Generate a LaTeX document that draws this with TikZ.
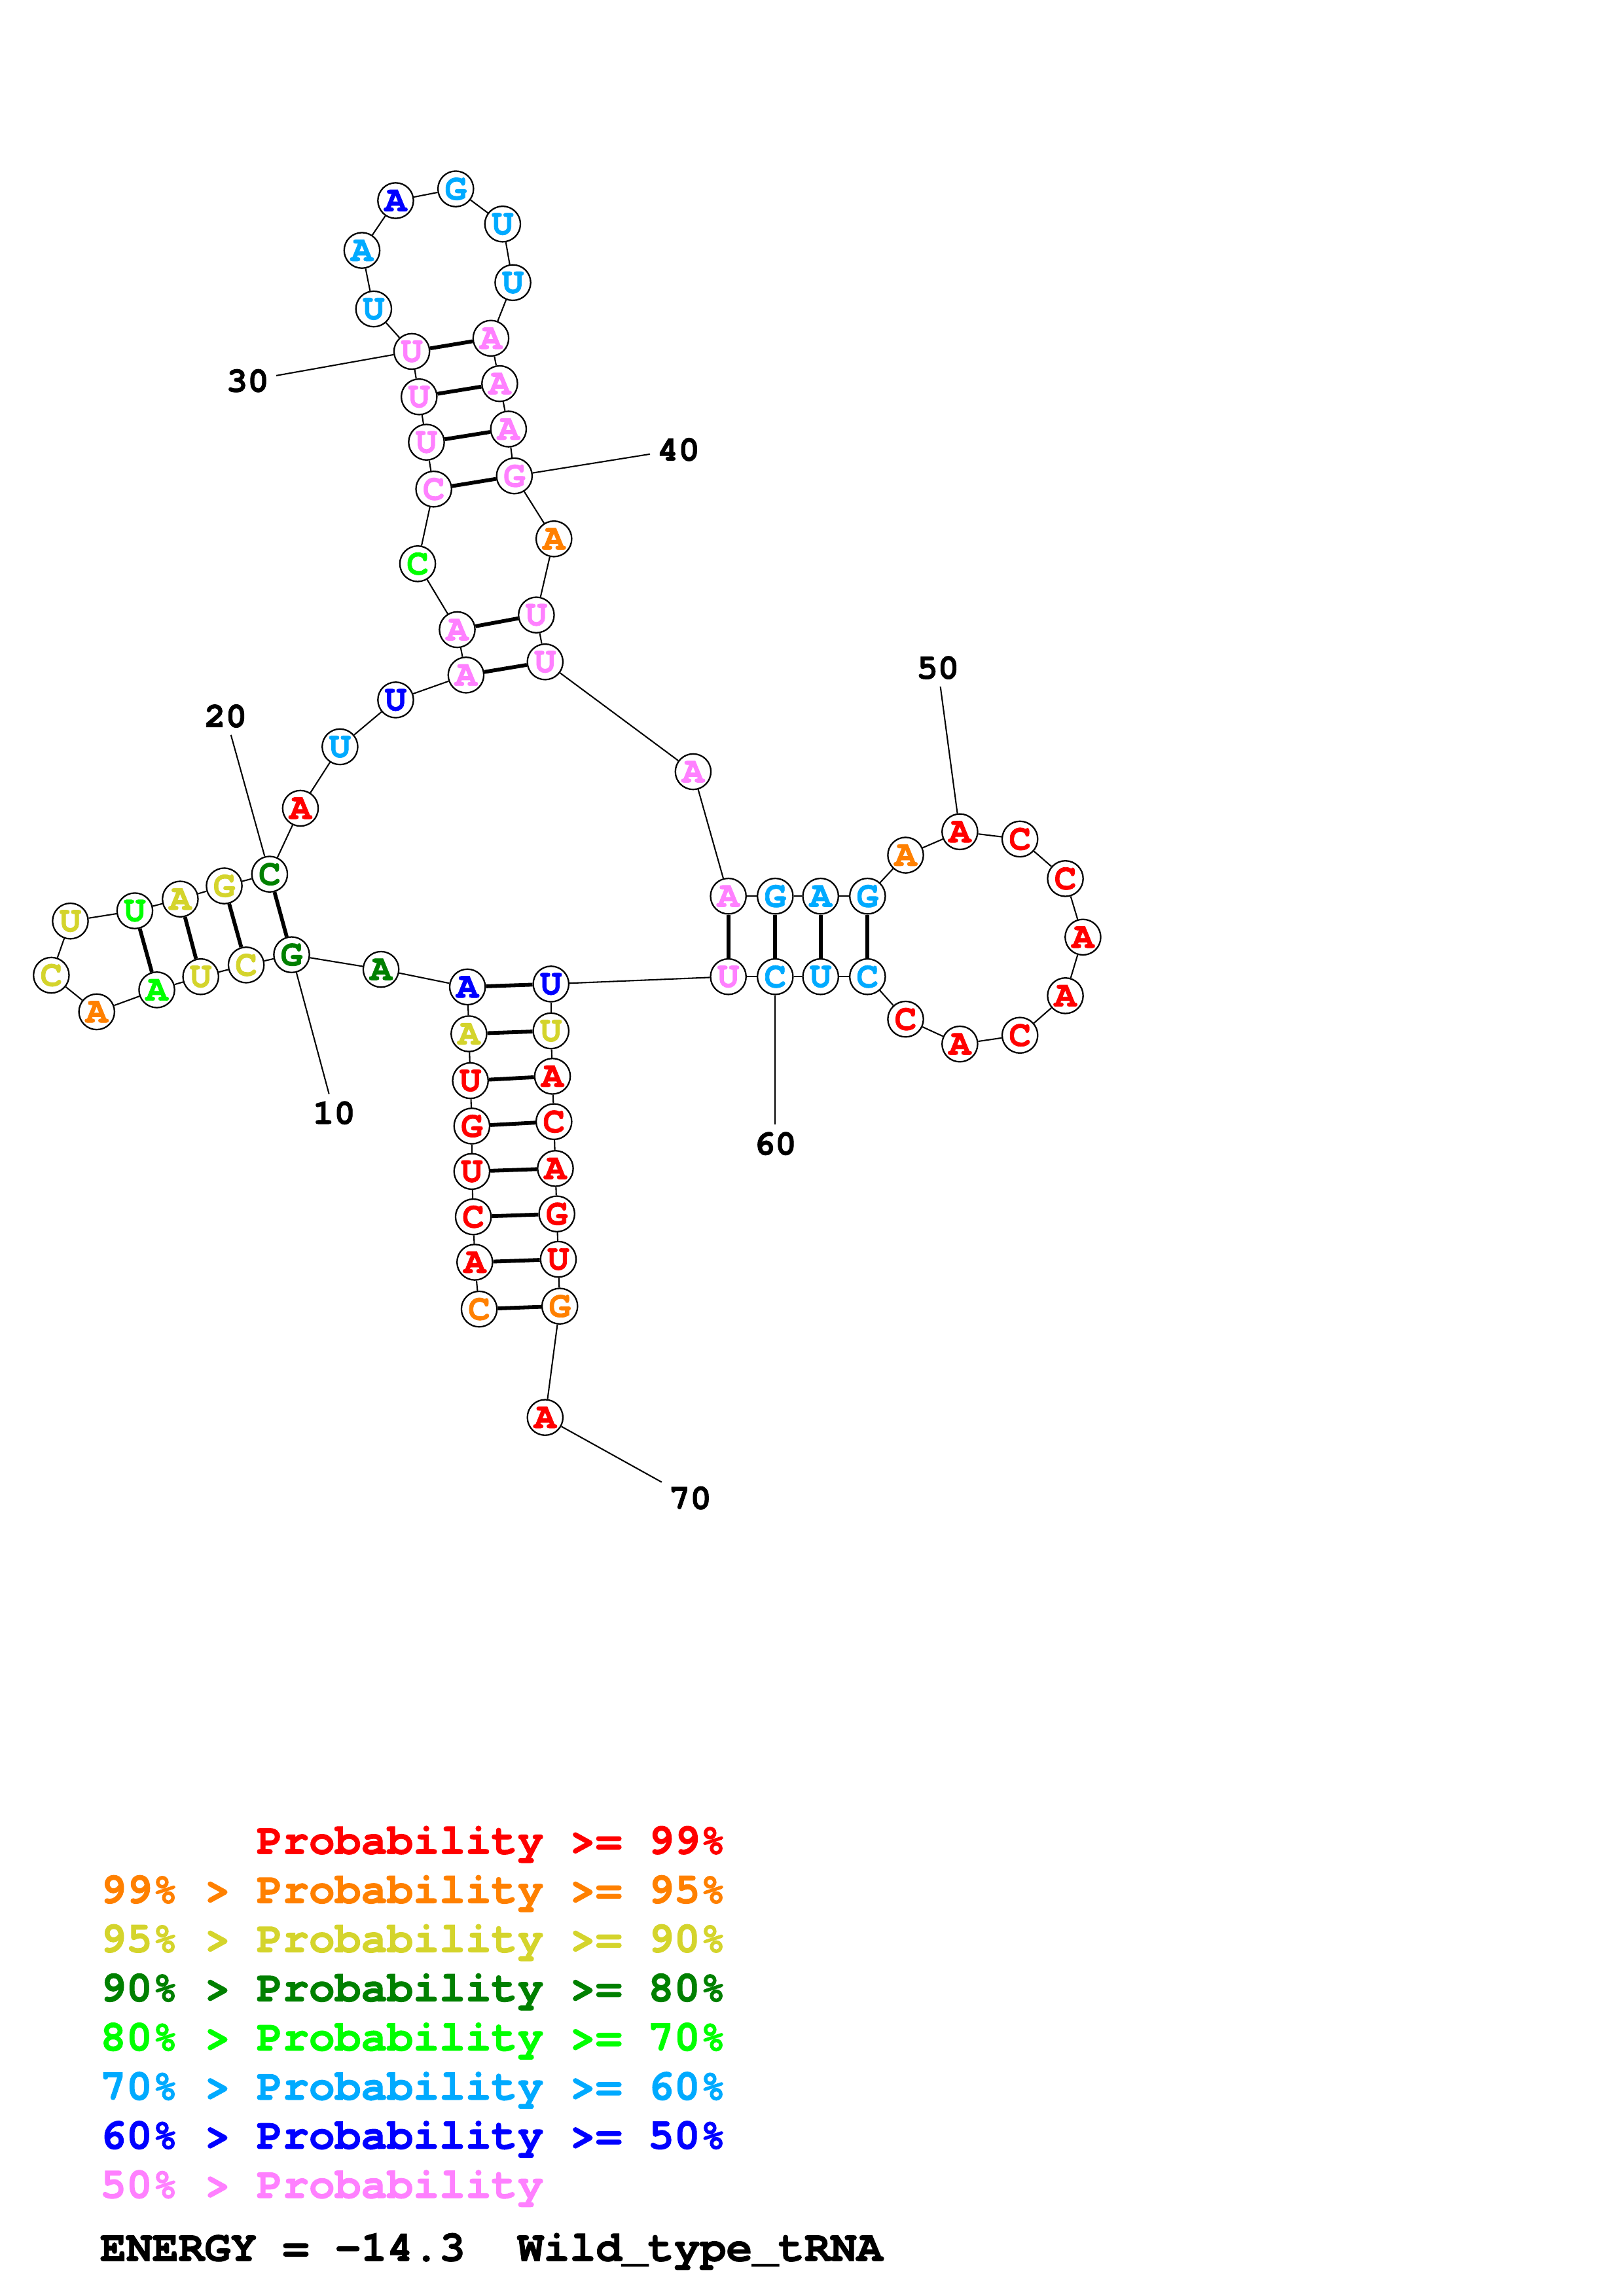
\documentclass[tikz,border=0pt]{standalone}
\usepackage{fontspec}
\setmonofont{TeX Gyre Cursor}[BoldFeatures={FakeBold=1.5}]
\usepackage{xcolor}
\usepackage{tikz}

\definecolor{pRed}{HTML}{FF0000}
\definecolor{pOrange}{HTML}{FF8000}
\definecolor{pYellow}{HTML}{D4D42C}
\definecolor{pDkGreen}{HTML}{008000}
\definecolor{pGreen}{HTML}{00FF00}
\definecolor{pLtBlue}{HTML}{00AAFF}
\definecolor{pBlue}{HTML}{0000FF}
\definecolor{pPink}{HTML}{FF80FF}

\tikzset{
  nuc/.style={circle, draw, line width=0.55pt, fill=white, minimum size=4.6mm, inner sep=0pt,
    font=\ttfamily\bfseries\fontsize{13.5}{13.5}\selectfont},
  bb/.style={line width=0.5pt},
  bp/.style={line width=1.4pt},
  numlab/.style={inner sep=2.5pt, font=\ttfamily\bfseries\fontsize{13}{13}\selectfont},
  legend/.style={anchor=base west, inner sep=0pt, font=\ttfamily\bfseries\fontsize{16}{16}\selectfont}
}

\begin{document}
\begin{tikzpicture}[x=0.189531mm, y=-0.189413mm]
\useasboundingbox (0,0) rectangle (1108,1568);

% nucleotides
\foreach \n/\x/\y/\b/\c in {
  1/327/894/C/pOrange, 2/324/862/A/pRed, 3/323/831/C/pRed, 4/322/800/U/pRed,
  5/322/769/G/pRed, 6/321/738/U/pRed, 7/320/706/A/pYellow, 8/319/674/A/pBlue,
  9/260/662/A/pDkGreen, 10/199/652/G/pDkGreen, 11/168/659/C/pYellow, 12/137/667/U/pYellow,
  13/107/676/A/pGreen, 14/66/691/A/pOrange, 15/35/666/C/pYellow, 16/48/629/U/pYellow,
  17/92/622/U/pGreen, 18/123/614/A/pYellow, 19/153/605/G/pYellow, 20/184/597/C/pDkGreen,
  21/205/552/A/pRed, 22/232/510/U/pLtBlue, 23/270/478/U/pBlue, 24/318/461/A/pPink,
  25/312/430/A/pPink, 26/285/385/C/pGreen, 27/296/334/C/pPink, 28/291/302/U/pPink,
  29/286/271/U/pPink, 30/281/240/U/pPink, 31/255/211/U/pLtBlue, 32/247/171/A/pLtBlue,
  33/270/137/A/pBlue, 34/311/129/G/pLtBlue, 35/343/153/U/pLtBlue, 36/350/193/U/pLtBlue,
  37/335/231/A/pPink, 38/341/262/A/pPink, 39/347/293/A/pPink, 40/351/325/G/pPink,
  41/378/368/A/pOrange, 42/366/420/U/pPink, 43/372/452/U/pPink, 44/473/527/A/pPink,
  45/497/612/A/pPink, 46/529/612/G/pLtBlue, 47/560/612/A/pLtBlue, 48/592/612/G/pLtBlue,
  49/618/584/A/pOrange, 50/655/568/A/pRed, 51/696/573/C/pRed, 52/727/600/C/pRed,
  53/739/640/A/pRed, 54/727/680/A/pRed, 55/696/707/C/pRed, 56/655/713/A/pRed,
  57/618/696/C/pRed, 58/592/667/C/pLtBlue, 59/560/667/U/pLtBlue, 60/529/667/C/pLtBlue,
  61/497/667/U/pPink, 62/376/672/U/pBlue, 63/376/704/U/pYellow, 64/377/735/A/pRed,
  65/378/766/C/pRed, 66/379/798/A/pRed, 67/380/829/G/pRed, 68/381/860/U/pRed,
  69/382/892/G/pOrange, 70/372/968/A/pRed}
  \node[nuc, text=\c] (n\n) at (\x,\y) {\b};

% backbone
\foreach \i [count=\j from 2] in {1,...,69}
  \draw[bb] (n\i) -- (n\j);

% base pairs
\foreach \a/\b in {1/69,2/68,3/67,4/66,5/65,6/64,7/63,8/62,
  10/20,11/19,12/18,13/17,24/43,25/42,27/40,28/39,29/38,30/37,
  45/61,46/60,47/59,48/58}
  \draw[bp] (n\a) -- (n\b);

% numbering
\foreach \n/\x/\y in {10/228/760, 20/154/489, 30/169/260, 40/463/307,
  50/640/456, 60/529/781, 70/471/1023} {
  \node[numlab] (lab\n) at (\x,\y) {\n};
  \draw[bb] (n\n) -- (lab\n);
}

% legend
\node[legend, text=pRed] (leg1) at (68,1266) {\phantom{99\% > }Probability >= 99\%};
\node[legend, text=pOrange] (leg2) at (68,1299.6) {99\% > Probability >= 95\%};
\node[legend, text=pYellow] (leg3) at (68,1333.1) {95\% > Probability >= 90\%};
\node[legend, text=pDkGreen] (leg4) at (68,1366.7) {90\% > Probability >= 80\%};
\node[legend, text=pGreen] (leg5) at (68,1400.3) {80\% > Probability >= 70\%};
\node[legend, text=pLtBlue] (leg6) at (68,1433.9) {70\% > Probability >= 60\%};
\node[legend, text=pBlue] (leg7) at (68,1467.4) {60\% > Probability >= 50\%};
\node[legend, text=pPink] (leg8) at (68,1501) {50\% > Probability};
\node[legend] (energy) at (68,1544) {ENERGY = -14.3\ \ Wild\_type\_tRNA};
\end{tikzpicture}
\end{document}
